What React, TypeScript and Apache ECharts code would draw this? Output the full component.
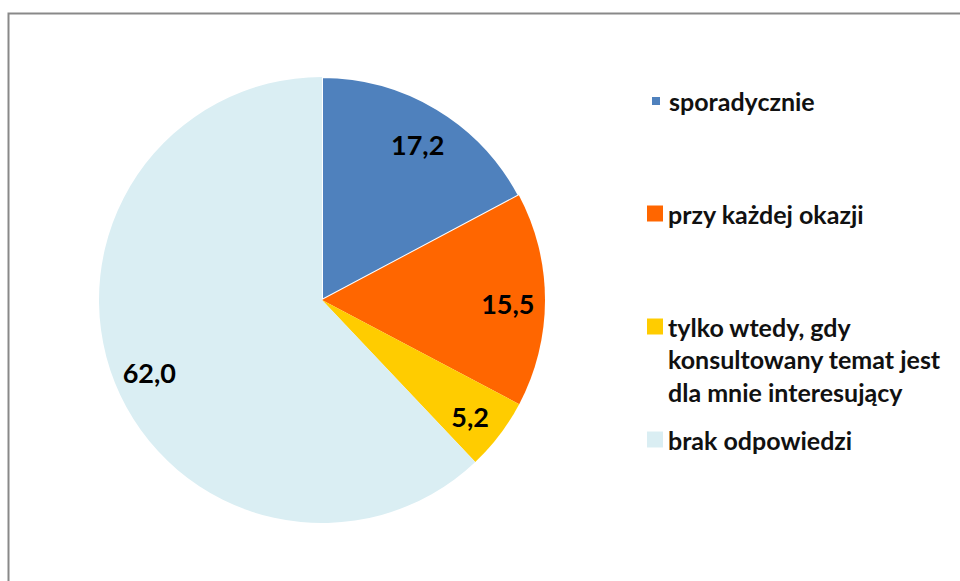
import React, { useEffect, useRef } from "react";
import * as echarts from "echarts";

const categories = [
  "sporadycznie",
  "przy każdej okazji",
  "tylko wtedy, gdy konsultowany temat jest dla mnie interesujący",
  "brak odpowiedzi",
];
const legendLines = [
  ["sporadycznie"],
  ["przy każdej okazji"],
  ["tylko wtedy, gdy", "konsultowany temat jest", "dla mnie interesujący"],
  ["brak odpowiedzi"],
];
const values = [17.2, 15.5, 5.2, 62.0];
const colors = ["#4F81BD", "#FF6600", "#FFCC00", "#DAEEF3"];

const FONT = "Lato, 'Open Sans', sans-serif";
const LH = 32.5;

export default function App() {
  const ref = useRef<HTMLDivElement>(null);
  useEffect(() => {
    if (!ref.current) return;
    const chart = echarts.init(ref.current, undefined, { renderer: "svg" });
    const center = [322, 300];
    const R = 223;
    const fmt = (v: number) => v.toFixed(1).replace(".", ",");

    const legendTops = [84.75, 197.25, 245.25, 423.25];
    const legends = categories.map((name, i) => {
      const lines = legendLines[i];
      // pad with blank lines above so that the first line is centred on the marker
      const text = Array(lines.length - 1).fill("").concat(lines).join("\n");
      return {
        data: [
          {
            name,
            icon: i === 0 ? "path://M0,0M16,16M3,3h10v10h-10z" : "rect",
          },
        ],
        orient: "vertical",
        left: 647,
        top: legendTops[i],
        padding: 0,
        itemWidth: 16,
        itemHeight: 16,
        selectedMode: false,
        formatter: () => text,
        textStyle: {
          fontFamily: FONT,
          fontSize: 25,
          fontWeight: "bold",
          color: "#111111",
          lineHeight: LH,
        },
      };
    });

    const data = categories.map((name, i) => ({
      name,
      value: values[i],
      itemStyle:
        i === 0
          ? { color: colors[i], borderColor: "#ffffff", borderWidth: 2 }
          : { color: colors[i], borderWidth: 0 },
    }));

    chart.setOption({
      animation: false,
      legend: legends,
      graphic: [
        {
          type: "rect",
          shape: { x: 8.5, y: 13.5, width: 1200, height: 1200 },
          style: { fill: "none", stroke: "#898989", lineWidth: 2 },
          z: 100,
          silent: true,
        },
      ],
      series: [
        {
          type: "pie",
          center,
          radius: [0, R],
          startAngle: 90,
          clockwise: true,
          label: { show: false },
          labelLine: { show: false },
          emphasis: { disabled: true },
          data,
        },
        {
          type: "pie",
          center,
          radius: [R * 0.64, R],
          startAngle: 90,
          clockwise: true,
          silent: true,
          legendHoverLink: false,
          itemStyle: { color: "rgba(0,0,0,0)", borderWidth: 0 },
          label: {
            show: true,
            position: "inside",
            formatter: (p: any) => fmt(p.value),
            fontFamily: FONT,
            fontSize: 27,
            fontWeight: "bold",
            color: "#000000",
            offset: [0, 4],
          },
          labelLine: { show: false },
          emphasis: { disabled: true },
          data: categories.map((name, i) => ({ name: name + " ", value: values[i] })),
        },
      ],
    });
    return () => chart.dispose();
  }, []);
  return (
    <div
      ref={ref}
      style={{ position: "absolute", left: 0, top: 0, width: 960, height: 581, background: "#fff" }}
    />
  );
}
